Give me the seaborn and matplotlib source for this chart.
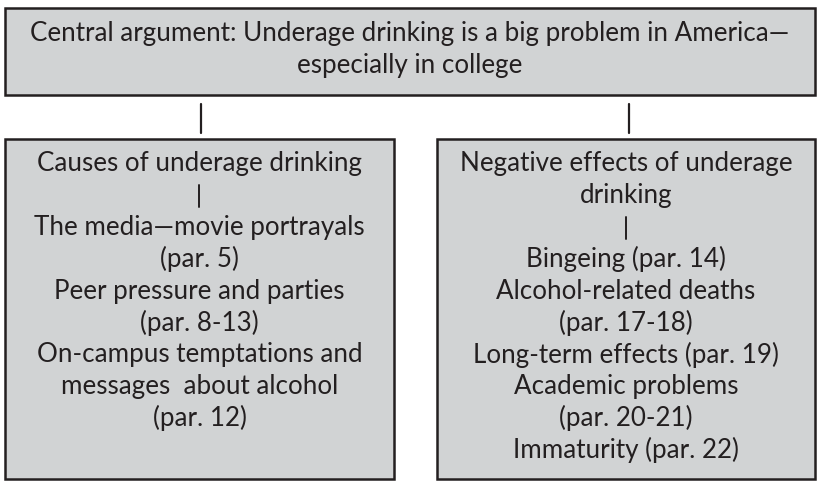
import seaborn as sns
import matplotlib.pyplot as plt
from matplotlib.patches import Rectangle

# box texts, one entry per line ("|" marks the small divider)
top_lines = ["Central argument: Underage drinking is a big problem in America\u2014",
             "especially in college"]
causes_lines = ["Causes of underage drinking", "|",
                "The media\u2014movie portrayals", "(par. 5)",
                "Peer pressure and parties", "(par. 8-13)",
                "On-campus temptations and", "messages  about alcohol", "(par. 12)"]
effects_lines = ["Negative effects of underage", "drinking", "|",
                 "Bingeing (par. 14)", "Alcohol-related deaths", "(par. 17-18)",
                 "Long-term effects (par. 19)", "Academic problems", "(par. 20-21)",
                 "Immaturity (par. 22)"]

sns.set_theme(style="white")
plt.rcParams['font.family'] = ['Lato', 'DejaVu Sans']

fill = "#d1d3d4"
edge = "#231f20"
fs = 18.7
step = 31.8

fig = plt.figure(figsize=(8.17, 4.82), dpi=100)
ax = fig.add_axes([0, 0, 1, 1])
ax.set_xlim(0, 817)
ax.set_ylim(482, 0)
ax.axis("off")


def box(x0, y0, x1, y1, lines, first_y):
    ax.add_patch(Rectangle((x0, y0), x1 - x0, y1 - y0, facecolor=fill,
                           edgecolor=edge, linewidth=1.8))
    cx = (x0 + x1) / 2
    for i, line in enumerate(lines):
        y = first_y + i * step
        if line == "|":
            ax.plot([cx, cx], [y - 11, y + 11], color=edge, lw=1.4)
        else:
            ax.text(cx, y, line, ha="center", va="center", fontsize=fs,
                    color=edge)


box(5, 8, 815, 95, top_lines, 34)
box(5, 139, 394, 479, causes_lines, 164)
box(437, 139, 815, 479, effects_lines, 164)

# connectors from the central argument
for cx in [201, 629]:
    ax.plot([cx, cx], [104, 133], color=edge, lw=1.6)

fig.savefig("out.png", dpi=100)
